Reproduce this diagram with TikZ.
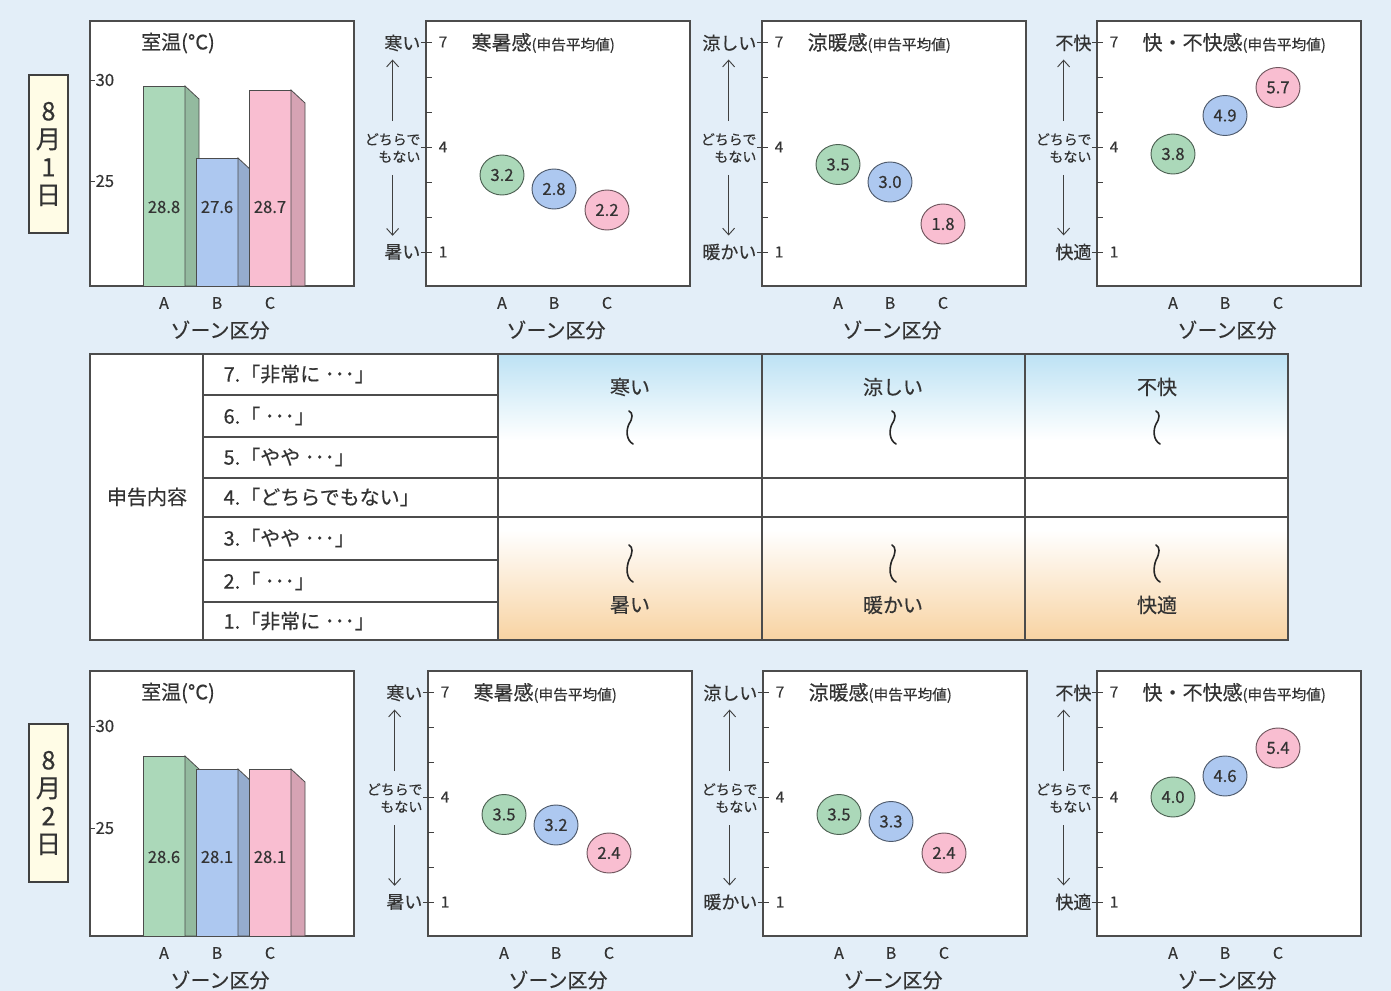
\documentclass[tikz,border=0pt]{standalone}
\usepackage{fontspec}
\setmainfont{Noto Sans CJK JP}[FakeBold=0.4]
\usetikzlibrary{arrows.meta,shapes.geometric}

\definecolor{bgblue}{HTML}{E3EEF8}
\definecolor{dateyellow}{HTML}{FFFCE6}
\definecolor{zgreen}{HTML}{ABD8B9}
\definecolor{zblue}{HTML}{ADC8F0}
\definecolor{zpink}{HTML}{F9BED1}
\definecolor{skyblue}{HTML}{BDE2F4}
\definecolor{peach}{HTML}{F8D3A2}
\definecolor{ink}{HTML}{333333}

\tikzset{
  chartframe/.style={draw=black!70, line width=0.8pt, fill=white},
  tickline/.style={draw=black!75, line width=0.7pt},
  barline/.style={draw=black!70, line width=0.6pt},
  tblline/.style={draw=black!70, line width=0.8pt},
  waveline/.style={draw=black!85, line width=1.2pt, line cap=round},
  axarrow/.style={draw=black!75, line width=0.7pt, -{Straight Barb[length=5pt,width=9pt]}},
  datebox/.style={draw=black!75, line width=0.8pt, fill=dateyellow, minimum width=29.25pt,
    minimum height=118.5pt, inner sep=0pt, align=center, text=ink,
    font=\fontsize{19}{21}\selectfont},
  charttitle/.style={inner sep=1pt, text=ink, font=\fontsize{15}{17}\selectfont},
  axisname/.style={inner sep=1pt, text=ink, font=\fontsize{15}{17}\selectfont},
  axisletter/.style={inner sep=1pt, text=ink, font=\fontsize{12}{14}\selectfont},
  ticklbl/.style={inner sep=1pt, text=ink, font=\fontsize{11.5}{13}\selectfont},
  bartick/.style={inner sep=1pt, text=ink, font=\fontsize{12.5}{14}\selectfont},
  endlbl/.style={inner sep=1pt, text=ink, font=\fontsize{13.5}{15}\selectfont},
  midlbl/.style={inner sep=1pt, text=ink, align=right, font=\fontsize{10.5}{13}\selectfont},
  barval/.style={inner sep=0.5pt, text=ink, font=\fontsize{12.5}{14}\selectfont},
  valell/.style={ellipse, line width=0.7pt, minimum width=33pt, minimum height=30pt,
    inner sep=0pt, text=ink, font=\fontsize{12.5}{14}\selectfont},
  tbltext/.style={inner sep=1pt, text=ink, font=\fontsize{15}{17}\selectfont}
}

\begin{document}
\begin{tikzpicture}[x=0.75pt,y=0.75pt,yscale=-1,xscale=1]
    \useasboundingbox[fill=bgblue] (0,0) rectangle (1391,991);

    % Date boxes
    \node[datebox] (date1) at (48.5,154) {8\\月\\1\\日};
    \node[datebox] (date2) at (48.5,803) {8\\月\\2\\日};

    % Room temperature bar charts
    \foreach \n/\dy/\ta/\tb/\tc/\va/\vb/\vc/\ya/\yb in {1/0/86/158/90/28.8/27.6/28.7/80/181,
                                                    2/650/106/119/119/28.6/28.1/28.1/76/178} {
      \draw[chartframe] (90,21+\dy) rectangle (354,286+\dy);
      \draw[tickline] (90,\ya+\dy) -- (95,\ya+\dy);
      \draw[tickline] (90,\yb+\dy) -- (95,\yb+\dy);
      \node[bartick, anchor=west] (bk\n30) at (94,\ya+\dy) {30};
      \node[bartick, anchor=west] (bk\n25) at (94,\yb+\dy) {25};
      \foreach \k/\xa/\bt/\val/\col/\lt in {a/143/\ta/\va/zgreen/A, b/196/\tb/\vb/zblue/B, c/249/\tc/\vc/zpink/C} {
        \draw[barline, fill=\col] (\xa,\bt+\dy) rectangle (\xa+42,286+\dy);
        \draw[barline, fill=\col!86!black] (\xa+42,\bt+\dy) -- (\xa+56,\bt+13+\dy) -- (\xa+56,286+\dy) -- (\xa+42,286+\dy) -- cycle;
        \node[barval] (bv\n\k) at (\xa+21,207+\dy) {\val};
        \node[axisletter] (bx\n\k) at (\xa+21,303+\dy) {\lt};
      }
      \node[charttitle] (bt\n) at (178,43+\dy) {室温(°C)};
      \node[axisname] (bz\n) at (220,330+\dy) {ゾーン区分};
    }

    % Sensation charts (mean reported values)
    \foreach \n/\lx/\dy/\ttl/\hilbl/\lolbl/\va/\vb/\vc in {
        1/426/0/寒暑感/寒い/暑い/3.2/2.8/2.2,
        2/762/0/涼暖感/涼しい/暖かい/3.5/3.0/1.8,
        3/1097/0/快・不快感/不快/快適/3.8/4.9/5.7,
        4/428/650/寒暑感/寒い/暑い/3.5/3.2/2.4,
        5/763/650/涼暖感/涼しい/暖かい/3.5/3.3/2.4,
        6/1097/650/快・不快感/不快/快適/4.0/4.6/5.4} {
      \draw[chartframe] (\lx,21+\dy) rectangle (\lx+264,286+\dy);
      \foreach \s in {1,...,7}
        \draw[tickline] (\lx,{252-(\s-1)*35+\dy}) -- (\lx+6,{252-(\s-1)*35+\dy});
      \foreach \s in {1,4,7} {
        \draw[tickline] (\lx-5,{252-(\s-1)*35+\dy}) -- (\lx,{252-(\s-1)*35+\dy});
        \node[ticklbl] (sk\n\s) at (\lx+17,{252-(\s-1)*35+\dy}) {\s};
      }
      \node[charttitle, anchor=west] (st\n) at (\lx+44,43+\dy) {\ttl{\fontsize{11}{12}\selectfont(申告平均値)}};
      \node[endlbl, anchor=east] (sh\n) at (\lx-4,43+\dy) {\hilbl};
      \node[endlbl, anchor=east] (sl\n) at (\lx-4,252+\dy) {\lolbl};
      \node[midlbl, anchor=east] (sm\n) at (\lx-4,148+\dy) {どちらで\\もない};
      \draw[axarrow, shorten <=8pt, shorten >=5pt] (sm\n.north) -- (sm\n.north |- sh\n.south);
      \draw[axarrow, shorten <=8pt, shorten >=5pt] (sm\n.south) -- (sm\n.south |- sl\n.north);
      \foreach \k/\dx/\val/\col/\lt in {a/76/\va/zgreen/A, b/128/\vb/zblue/B, c/181/\vc/zpink/C} {
        \node[valell, fill=\col, draw=\col!45!black] (se\n\k) at ({\lx+\dx},{252-(\val-1)*35+\dy}) {\val};
        \node[axisletter] (sx\n\k) at ({\lx+\dx},{303+\dy}) {\lt};
      }
      \node[axisname] (sz\n) at (\lx+130,330+\dy) {ゾーン区分};
    }

    % Report scale table
    \fill[white] (90,354) rectangle (498,640);
    \shade[top color=skyblue, bottom color=white] (498,354) rectangle (1288,440);
    \fill[white] (498,440) rectangle (1288,530);
    \shade[top color=white, bottom color=peach] (498,530) rectangle (1288,640);
    \draw[tblline] (90,354) rectangle (1288,640);
    \foreach \x in {203,498,762,1025} \draw[tblline] (\x,354) -- (\x,640);
    \foreach \y in {395,437,560,602} \draw[tblline] (203,\y) -- (498,\y);
    \foreach \y in {478,517} \draw[tblline] (203,\y) -- (1288,\y);

    \node[tbltext] (rhead) at (147,497) {申告内容};
    \foreach \r/\y/\txt in {7/374/{7.「非常に ･･･」}, 6/416/{6.「 ･･･」}, 5/457/{5.「やや ･･･」},
                          4/497/{4.「どちらでもない」}, 3/538/{3.「やや ･･･」}, 2/581/{2.「 ･･･」},
                          1/621/{1.「非常に ･･･」}}
      \node[tbltext, anchor=west] (row\r) at (222,\y) {\txt};

    \foreach \k/\x/\hilbl/\lolbl in {a/630/寒い/暑い, b/893/涼しい/暖かい, c/1157/不快/快適} {
      \node[tbltext] (th\k) at (\x,387) {\hilbl};
      \node[tbltext] (tl\k) at (\x,605) {\lolbl};
      \draw[waveline] (\x-1,411) .. controls (\x+3,413) and (\x+3,418) .. (\x-1,424) .. controls (\x-4,430) and (\x-4,440) .. (\x+3,444);
      \draw[waveline] (\x-1,545) .. controls (\x+3,547) and (\x+3,553) .. (\x-1,560) .. controls (\x-4,568) and (\x-4,578) .. (\x+3,582);
    }

\end{tikzpicture}
\end{document}
